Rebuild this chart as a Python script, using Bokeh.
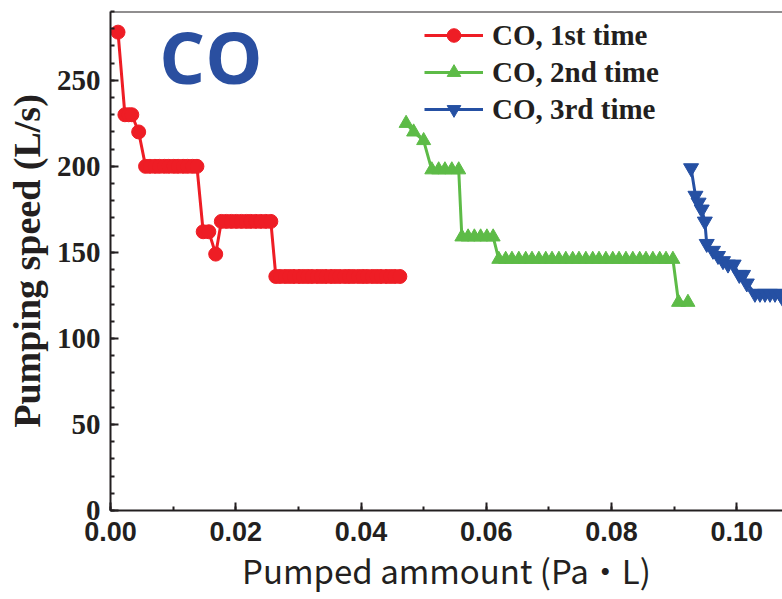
from bokeh.plotting import figure
from bokeh.models import (Range1d, SingleIntervalTicker, NumeralTickFormatter,
                          Legend, LegendItem, Span, Label)
from bokeh.embed import file_html
from bokeh.resources import INLINE

# Pumped amount (Pa·L) and pumping speed (L/s) for three CO runs
red_x = [0.0012, 0.0023, 0.0029, 0.0034, 0.0045,
         0.0056, 0.0063, 0.0071, 0.0078, 0.0086, 0.0093, 0.0101, 0.0108, 0.0116, 0.0123, 0.0131, 0.0138,
         0.0148, 0.0157, 0.0168,
         0.0177, 0.0185, 0.0193, 0.0201, 0.0209, 0.0217, 0.0224, 0.0232, 0.0240, 0.0248, 0.0256,
         0.0264, 0.0271, 0.0279, 0.0286, 0.0293, 0.0301, 0.0308, 0.0315, 0.0322, 0.0330, 0.0337,
         0.0344, 0.0352, 0.0359, 0.0366, 0.0374, 0.0381, 0.0388, 0.0396, 0.0403, 0.0410, 0.0418,
         0.0425, 0.0432, 0.0440, 0.0447, 0.0454, 0.0462]
red_y = [278, 230, 230, 230, 220,
         200, 200, 200, 200, 200, 200, 200, 200, 200, 200, 200, 200,
         162, 162, 149,
         168, 168, 168, 168, 168, 168, 168, 168, 168, 168, 168,
         136, 136, 136, 136, 136, 136, 136, 136, 136, 136, 136,
         136, 136, 136, 136, 136, 136, 136, 136, 136, 136, 136,
         136, 136, 136, 136, 136, 136]

green_x = [0.0472, 0.0484, 0.0500,
           0.0513, 0.0524, 0.0534, 0.0545, 0.0556,
           0.0561, 0.0571, 0.0581, 0.0591, 0.0601, 0.0611,
           0.0620, 0.0631, 0.0641, 0.0652, 0.0663, 0.0673, 0.0684, 0.0695, 0.0705, 0.0716,
           0.0727, 0.0738, 0.0748, 0.0759, 0.0770, 0.0780, 0.0791, 0.0802, 0.0812, 0.0823,
           0.0834, 0.0845, 0.0855, 0.0866, 0.0877, 0.0887, 0.0898,
           0.0907, 0.0922]
green_y = [225, 220, 215,
           198, 198, 198, 198, 198,
           159, 159, 159, 159, 159, 159,
           146, 146, 146, 146, 146, 146, 146, 146, 146, 146,
           146, 146, 146, 146, 146, 146, 146, 146, 146, 146,
           146, 146, 146, 146, 146, 146, 146,
           121, 121]

blue_x = [0.0927, 0.0934, 0.0939, 0.0944, 0.0949, 0.0952, 0.0962, 0.0970, 0.0978, 0.0986,
          0.0995, 0.1004, 0.1010, 0.1016, 0.1029, 0.1037, 0.1045, 0.1053, 0.1061, 0.1069, 0.1077]
blue_y = [199, 183, 179, 175, 168, 155, 151, 148, 145, 143,
          143, 137, 137, 132, 126, 126, 126, 126, 126, 126, 121]

series_labels = ["CO, 1st time", "CO, 2nd time", "CO, 3rd time"]
x_ticks_step = 0.02
y_ticks_step = 50

RED = "#EE1D25"
GREEN = "#5DBB47"
BLUE = "#2550A3"
INK = "#231F20"

p = figure(frame_width=672, frame_height=499,
           min_border_left=110, min_border_right=0, min_border_top=11, min_border_bottom=0,
           x_range=Range1d(0, 0.1073), y_range=Range1d(0, 290),
           output_backend="svg", toolbar_location=None)
p.outline_line_color = None
p.xgrid.visible = False
p.ygrid.visible = False
p.background_fill_color = "white"
p.border_fill_color = "white"

# series
r1l = p.line(red_x, red_y, line_color=RED, line_width=3)
r1m = p.scatter(red_x, red_y, marker="circle", size=14, fill_color=RED, line_color=RED)
r2l = p.line(green_x, green_y, line_color=GREEN, line_width=3)
r2m = p.scatter(green_x, green_y, marker="triangle", size=14, fill_color=GREEN, line_color=GREEN)
r3l = p.line(blue_x, blue_y, line_color=BLUE, line_width=3)
r3m = p.scatter(blue_x, blue_y, marker="inverted_triangle", size=15, fill_color=BLUE, line_color=BLUE)

# axes
for ax in (p.xaxis[0], p.yaxis[0]):
    ax.axis_line_color = INK
    ax.axis_line_width = 2
    ax.major_tick_line_color = INK
    ax.major_tick_line_width = 2
    ax.minor_tick_line_color = INK
    ax.minor_tick_line_width = 2
    ax.major_tick_in = 8
    ax.major_tick_out = 0
    ax.minor_tick_in = 4
    ax.minor_tick_out = 0
    ax.major_label_text_color = INK
    ax.axis_label_text_color = INK

p.xaxis.ticker = SingleIntervalTicker(interval=x_ticks_step, num_minor_ticks=2)
p.xaxis.formatter = NumeralTickFormatter(format="0.00")
p.xaxis.major_label_text_font = "Liberation Sans"
p.xaxis.major_label_text_font_style = "bold"
p.xaxis.major_label_text_font_size = "27px"
p.xaxis.major_label_standoff = 11
p.xaxis.axis_label = "Pumped ammount (Pa・L)"
p.xaxis.axis_label_text_font = "Noto Sans CJK JP"
p.xaxis.axis_label_text_font_style = "normal"
p.xaxis.axis_label_text_font_size = "33px"
p.xaxis.axis_label_standoff = 2

p.yaxis.ticker = SingleIntervalTicker(interval=y_ticks_step, num_minor_ticks=5)
p.yaxis.major_label_text_font = "Liberation Serif"
p.yaxis.major_label_text_font_style = "bold"
p.yaxis.major_label_text_font_size = "29px"
p.yaxis.major_label_standoff = 10
p.yaxis.axis_label = "Pumping speed (L/s)"
p.yaxis.axis_label_text_font = "Liberation Serif"
p.yaxis.axis_label_text_font_style = "bold"
p.yaxis.axis_label_text_font_size = "38px"
p.yaxis.axis_label_standoff = 6

# top border of the frame
p.add_layout(Span(location=290, dimension="width", line_color=INK, line_width=2))

# gas label
p.add_layout(Label(x=0.0078, y=264, text="CO", text_font="Open Sans",
                   text_font_style="bold", text_font_size="72px", text_color="#2A4FA0",
                   text_baseline="alphabetic"))

legend = Legend(items=[
    LegendItem(label=series_labels[0], renderers=[r1l, r1m]),
    LegendItem(label=series_labels[1], renderers=[r2l, r2m]),
    LegendItem(label=series_labels[2], renderers=[r3l, r3m]),
], location=(314, 384))
legend.border_line_color = None
legend.background_fill_alpha = 0
legend.padding = 0
legend.margin = 0
legend.spacing = 3
legend.glyph_width = 59
legend.glyph_height = 34
legend.label_standoff = 9
legend.label_text_font = "Liberation Serif"
legend.label_text_font_style = "bold"
legend.label_text_font_size = "29px"
legend.label_text_color = INK
p.add_layout(legend)

open("out.html", "w").write(file_html(p, INLINE))
